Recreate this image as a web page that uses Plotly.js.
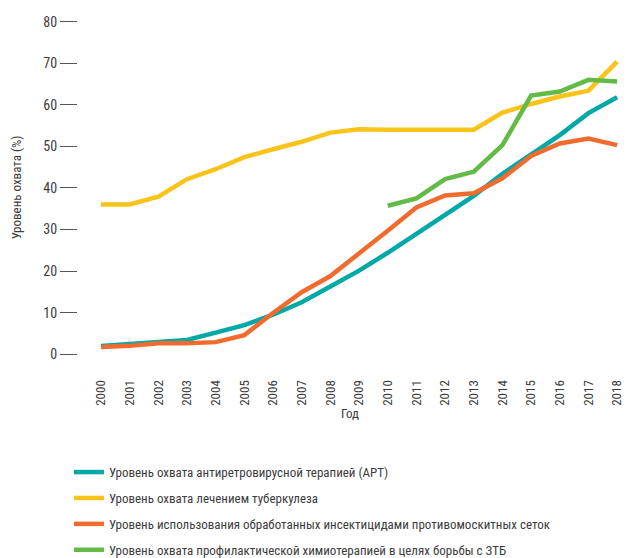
<!DOCTYPE html>
<html>
<head>
<meta charset="utf-8">
<script src="https://cdn.plot.ly/plotly-3.0.1.min.js"></script>
<style>html,body{margin:0;padding:0;background:#fff}#chart{width:627px;height:558px}</style>
</head>
<body>
<div id="chart"></div>
<script>
const years = [2000,2001,2002,2003,2004,2005,2006,2007,2008,2009,2010,2011,2012,2013,2014,2015,2016,2017,2018];
const yearLabels = years.map(String);
const artCoverage = [2.0,2.5,3.0,3.4,5.2,7.0,9.5,12.5,16.3,20.1,24.4,28.9,33.5,38.1,43.4,47.9,52.7,58.0,61.8];
const tbTreatment = [36.0,36.0,37.9,42.1,44.5,47.4,49.3,51.1,53.3,54.1,54.0,54.0,54.0,54.0,58.1,60.2,62.0,63.4,70.4];
const itnUse = [1.7,2.0,2.6,2.6,2.9,4.6,9.9,14.9,18.8,24.1,29.7,35.3,38.2,38.7,42.3,47.7,50.7,51.9,50.3];
const tptYears = [2010,2011,2012,2013,2014,2015,2016,2017,2018];
const tptCoverage = [35.7,37.5,42.1,43.9,50.3,62.2,63.2,66.0,65.6];
const seriesNames = [
  'Уровень охвата антиретровирусной терапией (АРТ)',
  'Уровень охвата лечением туберкулеза',
  'Уровень использования обработанных инсектицидами противомоскитных сеток',
  'Уровень охвата профилактической химиотерапией в целях борьбы с ЗТБ'
];
const colors = ['#00A8A6','#F9C31A','#F26B2E','#63BB47'];
const FONT = '"Roboto Condensed","Liberation Sans Narrow","DejaVu Sans Condensed",sans-serif';
const TXT = '#3c3c3c';

const data = [
  {x: years, y: artCoverage, name: seriesNames[0]},
  {x: years, y: tbTreatment, name: seriesNames[1]},
  {x: years, y: itnUse, name: seriesNames[2]},
  {x: tptYears, y: tptCoverage, name: seriesNames[3]}
].map((t,i)=>Object.assign(t,{type:'scatter',mode:'lines',legendgroup:'g'+i,line:{color:colors[i],width:4.5},hoverinfo:'skip'}));

const layout = {
  width: 627, height: 558,
  margin: {l: 78, r: 5, t: 15, b: 198},
  paper_bgcolor: '#fff', plot_bgcolor: '#fff',
  font: {family: FONT, size: 13, color: TXT},
  showlegend: true,
  legend: {x: -0.0165, xanchor: 'left', xref: 'paper', y: 0.1808, yref: 'container', yanchor: 'top', orientation: 'v',
           font: {family: FONT, size: 13, color: TXT}, itemwidth: 30, tracegroupgap: 6},
  xaxis: {
    range: [1999.2, 2018.17], tickmode: 'array', tickvals: years, ticktext: yearLabels,
    tickangle: -90, showgrid: false, zeroline: false, showline: false,
    ticks: 'outside', ticklen: 14, tickcolor: 'rgba(0,0,0,0)',
    tickfont: {family: FONT, size: 13, color: TXT},
    title: {text: 'Год', font: {family: FONT, size: 13, color: TXT}, standoff: 1}
  },
  yaxis: {
    range: [-1.4, 81.6], tickvals: [0,10,20,30,40,50,60,70,80],
    showgrid: false, zeroline: false, showline: false,
    ticks: 'outside', ticklen: 17, tickcolor: '#555', tickwidth: 1,
    tickfont: {family: FONT, size: 14, color: TXT},
    title: {text: 'Уровень охвата (%)', font: {family: FONT, size: 13, color: TXT}, standoff: 18}
  }
};
Plotly.newPlot('chart', data, layout, {displayModeBar: false, staticPlot: true});
</script>
</body>
</html>
